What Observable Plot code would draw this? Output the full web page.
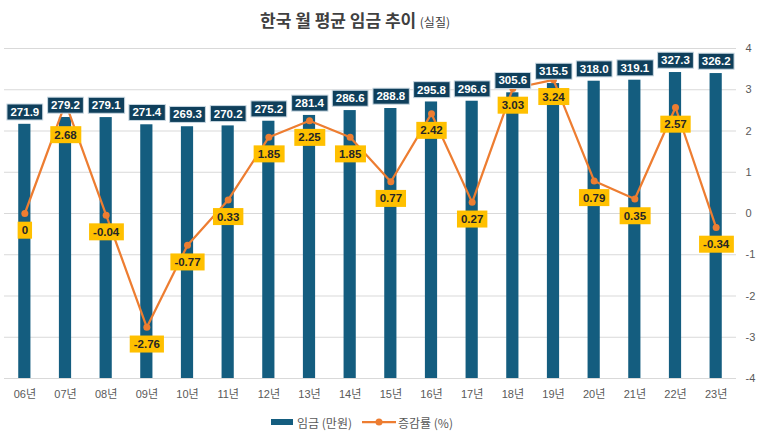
<!DOCTYPE html>
<html>
<head>
<meta charset="utf-8">
<script src="https://cdn.jsdelivr.net/npm/d3@7"></script>
<script src="https://cdn.jsdelivr.net/npm/@observablehq/plot@0.6"></script>
<style>
  body { margin: 0; background: #fff; font-family: "Liberation Sans", "Noto Sans CJK KR", sans-serif; }
  #wrap { width: 760px; height: 436px; position: relative; overflow: hidden; }
  #title { height: 36px; padding-right: 50px; text-align: center; line-height: 40px; color: #404040; font-family: "Noto Sans CJK KR", sans-serif; }
  #title .main { font-size: 17px; font-weight: 700; }
  #title .sub { font-size: 12px; font-weight: 400; }
  #legend { display: flex; justify-content: center; align-items: center; padding-right: 36px; height: 24px; font-size: 12px; color: #595959; font-family: "Noto Sans CJK KR", sans-serif; }
  .item { display: flex; align-items: center; margin: 0 5px; }
  .sw { display: inline-block; width: 22px; height: 6px; background: #145d7f; margin-right: 4px; }
</style>
</head>
<body>
<div id="wrap">
  <div id="title"><span class="main">한국 월 평균 임금 추이</span> <span class="sub">(실질)</span></div>
  <div id="chart"></div>
  <div id="legend">
    <div class="item"><span class="sw"></span>임금 (만원)</div>
    <div class="item"><svg width="34" height="10" style="margin-right:2px"><line x1="0" y1="5" x2="34" y2="5" stroke="#ed7d31" stroke-width="2.25"/><circle cx="17" cy="5" r="3.5" fill="#ed7d31"/></svg>증감률 (%)</div>
  </div>
</div>
<script>
const years = ["06년","07년","08년","09년","10년","11년","12년","13년","14년","15년","16년","17년","18년","19년","20년","21년","22년","23년"];
const wages = [271.9,279.2,279.1,271.4,269.3,270.2,275.2,281.4,286.6,288.8,295.8,296.6,305.6,315.5,318.0,319.1,327.3,326.2];
const rates = [0,2.68,-0.04,-2.76,-0.77,0.33,1.85,2.25,1.85,0.77,2.42,0.27,3.03,3.24,0.79,0.35,2.57,-0.34];
const rightTicks = [-4,-3,-2,-1,0,1,2,3,4];

const data = years.map((y, i) => ({year: y, wage: wages[i], rate: rates[i]}));

// primary (wage) axis 0..353 mapped onto the secondary (-4..4) axis
const wageMax = 353;
const toY = v => -4 + v * 8 / wageMax;

const chart = Plot.plot({
  width: 760,
  height: 374,
  marginTop: 12,
  marginBottom: 32,
  marginLeft: 4,
  marginRight: 24,
  style: {fontFamily: "'Liberation Sans', 'Noto Sans CJK KR', sans-serif", fontSize: "11px", background: "#fff"},
  x: {domain: years, paddingInner: 0.7, paddingOuter: 0.35, round: false, label: null},
  y: {domain: [-4, 4], label: null},
  marks: [
    Plot.ruleY(rightTicks, {stroke: "#d9d9d9", strokeWidth: 1}),
    Plot.barY(data, {x: "year", y1: () => -4, y2: d => toY(d.wage), fill: "#145d7f"}),
    Plot.line(data, {x: "year", y: "rate", stroke: "#ed7d31", strokeWidth: 2.25}),
    Plot.dot(data, {x: "year", y: "rate", r: 3.5, fill: "#ed7d31", stroke: null}),
    Plot.text(data, {x: "year", y: d => toY(d.wage), dy: -12, text: d => d.wage.toFixed(1), fill: "#ffffff", fontWeight: "bold", fontSize: 11.5}),
    Plot.text(data, {x: "year", y: "rate", dy: 17, text: d => String(d.rate), fill: "#262626", fontWeight: "bold", fontSize: 11.5}),
    Plot.axisX({tickSize: 0, tickPadding: 12, fill: "#595959", fontSize: 11}),
    Plot.axisY({anchor: "right", ticks: rightTicks, tickSize: 0, tickPadding: 9, fill: "#595959", fontSize: 11, tickFormat: d => String(d)})
  ]
});
document.getElementById("chart").appendChild(chart);

const NS = "http://www.w3.org/2000/svg";
function boxes(group, fill, stroke, padX, h) {
  const out = [];
  group.querySelectorAll("text").forEach(t => {
    const b = t.getBBox();
    const r = document.createElementNS(NS, "rect");
    const cy = b.y + b.height / 2;
    r.setAttribute("x", b.x - padX);
    r.setAttribute("y", cy - h / 2);
    r.setAttribute("width", b.width + 2 * padX);
    r.setAttribute("height", h);
    r.setAttribute("fill", fill);
    r.setAttribute("stroke", stroke || "none");
    r.setAttribute("stroke-width", 1);
    const tr = t.getAttribute("transform");
    if (tr) r.setAttribute("transform", tr);
    t.parentNode.insertBefore(r, t);
    // wrap rect+text so they can be moved together
    const g = document.createElementNS(NS, "g");
    t.parentNode.insertBefore(g, r);
    g.appendChild(r);
    g.appendChild(t);
    out.push({g, r});
  });
  return out;
}
const textGroups = Array.from(chart.querySelectorAll('g[aria-label="text"]'));
const barBoxes = textGroups[0] ? boxes(textGroups[0], "#0f3f5b", "#c9d8e2", 3.5, 16) : [];
const rateBoxes = textGroups[1] ? boxes(textGroups[1], "#ffc000", null, 4, 17) : [];
// push a rate label below the wage label when they collide
rateBoxes.forEach((rb, i) => {
  const bb = barBoxes[i];
  if (!bb) return;
  const a = rb.r.getBoundingClientRect();
  const c = bb.r.getBoundingClientRect();
  const overlapX = a.left < c.right && c.left < a.right;
  const overlapY = a.top < c.bottom && c.top < a.bottom;
  if (overlapX && overlapY) {
    const shift = c.bottom + 13 - a.top;
    rb.g.setAttribute("transform", `translate(0,${shift})`);
  }
});
</script>
</body>
</html>
